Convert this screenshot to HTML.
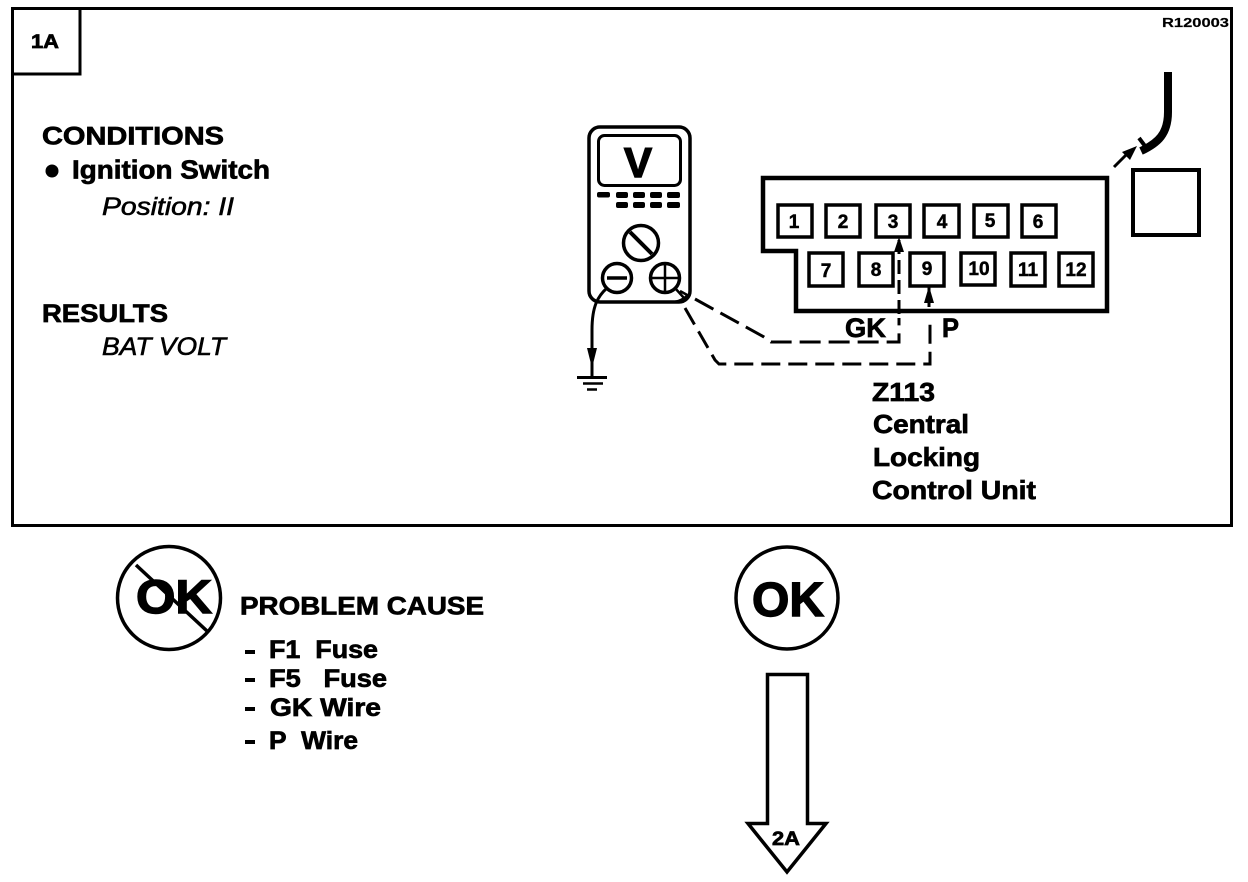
<!DOCTYPE html>
<html lang="en">
<head>
<meta charset="utf-8">
<title>1A</title>
<style>
html,body{margin:0;padding:0;background:#fff;width:1248px;height:882px;overflow:hidden}
svg{display:block}
text{font-family:"Liberation Sans",Arial,sans-serif;font-weight:bold;fill:#000;stroke:#000;stroke-width:.7}
.i{font-style:italic;font-weight:normal;stroke-width:.6}
.n{font-size:19px;text-anchor:middle;stroke-width:.5}
.k{stroke-width:1.4}
.l{fill:none;stroke:#000}
</style>
</head>
<body>
<svg width="1248" height="882" viewBox="0 0 1248 882" xmlns="http://www.w3.org/2000/svg">
<rect width="1248" height="882" fill="#fff"/>

<!-- frame -->
<rect class="l" x="12.5" y="8.5" width="1219" height="517" stroke-width="3"/>
<path class="l" d="M13 74H80V9" stroke-width="3"/>
<text x="31" y="48" font-size="19" textLength="28" lengthAdjust="spacingAndGlyphs">1A</text>
<text x="1162" y="27" font-size="13" textLength="67" lengthAdjust="spacingAndGlyphs" style="stroke-width:.2">R120003</text>

<!-- left text -->
<text x="42" y="144.5" font-size="25" textLength="182" lengthAdjust="spacingAndGlyphs">CONDITIONS</text>
<circle cx="52" cy="171" r="6.5"/>
<text x="72" y="178.5" font-size="26" textLength="198" lengthAdjust="spacingAndGlyphs">Ignition Switch</text>
<text class="i" x="102" y="215" font-size="25" textLength="132" lengthAdjust="spacingAndGlyphs">Position: II</text>
<text x="42" y="322" font-size="25" textLength="126" lengthAdjust="spacingAndGlyphs">RESULTS</text>
<text class="i" x="102" y="355" font-size="25" textLength="124" lengthAdjust="spacingAndGlyphs">BAT VOLT</text>

<!-- meter -->
<rect class="l" x="589" y="127" width="101" height="175" rx="11" stroke-width="3.5"/>
<rect class="l" x="598.5" y="135.5" width="82" height="50" rx="6" stroke-width="3"/>
<text class="k" x="638" y="177" font-size="42" text-anchor="middle">V</text>
<g>
<rect x="597" y="192" width="13" height="5.5" rx="2"/><rect x="616" y="192" width="12" height="6" rx="2"/><rect x="633" y="192" width="12" height="6" rx="2"/><rect x="650" y="192" width="12" height="6" rx="2"/><rect x="667" y="192" width="13" height="6" rx="2"/>
<rect x="616" y="202" width="12" height="6" rx="2"/><rect x="633" y="202" width="12" height="6" rx="2"/><rect x="650" y="202" width="12" height="6" rx="2"/><rect x="667" y="202" width="13" height="6" rx="2"/>
</g>
<circle class="l" cx="641" cy="243" r="17.5" stroke-width="3.5"/>
<path class="l" d="M630 232L652 254" stroke-width="4"/>
<circle class="l" cx="617" cy="278" r="14.5" stroke-width="3.5"/>
<path class="l" d="M607 278H627" stroke-width="3.5"/>
<circle class="l" cx="665" cy="278" r="14.5" stroke-width="3.5"/>
<path class="l" d="M651 278H679M665 264V292" stroke-width="2.5"/>
<path class="l" d="M607 288C598 296 592 306 592 330V376" stroke-width="3"/>
<path d="M587 348H597L592 368Z"/>
<path class="l" d="M577 377.5H607" stroke-width="3"/>
<path class="l" d="M583 383.5H603" stroke-width="2.5"/>
<path class="l" d="M587 389.5H597" stroke-width="2.5"/>
<path class="l" d="M675 288L684 298M680 291L689 296M672 302C678 302 684 299 688 295" stroke-width="2.5"/>

<!-- dashed leads -->
<path class="l" d="M695 299L764 337L771 342H899V318" stroke-width="3" stroke-dasharray="21 8"/>
<path class="l" d="M685 308L715 360L719 364H930V318" stroke-width="3" stroke-dasharray="19 8"/>
<path class="l" d="M899 240V318" stroke-width="3" stroke-dasharray="14 6"/>
<path class="l" d="M929 287V307" stroke-width="3"/>
<path d="M894 252L899 237L904 252Z"/>
<path d="M924 303L929 286L934 303Z"/>

<!-- connector -->
<path class="l" d="M763 178H1107V311H796V251H763Z" stroke-width="4.5"/>
<g class="l" stroke-width="3.5">
<rect x="778" y="205" width="34" height="32"/>
<rect x="826" y="205" width="34" height="32"/>
<rect x="876" y="205" width="34" height="32"/>
<rect x="924" y="205" width="35" height="32"/>
<rect x="974" y="205" width="34" height="32"/>
<rect x="1022" y="205" width="34" height="32"/>
<rect x="809" y="253" width="34" height="33"/>
<rect x="859" y="253" width="34" height="33"/>
<rect x="910" y="253" width="34" height="33"/>
<rect x="961" y="253" width="34" height="32"/>
<rect x="1011" y="253" width="34" height="33"/>
<rect x="1059" y="253" width="34" height="33"/>
</g>
<text class="n" x="794" y="228">1</text>
<text class="n" x="843" y="228">2</text>
<text class="n" x="893" y="228">3</text>
<text class="n" x="942" y="228">4</text>
<text class="n" x="990" y="227">5</text>
<text class="n" x="1038" y="228">6</text>
<text class="n" x="826" y="277">7</text>
<text class="n" x="876" y="276">8</text>
<text class="n" x="927" y="275">9</text>
<text class="n" x="979" y="275">10</text>
<text class="n" x="1028" y="276">11</text>
<text class="n" x="1076" y="276">12</text>
<text x="845" y="337" font-size="27" textLength="41" lengthAdjust="spacingAndGlyphs">GK</text>
<text x="942" y="337" font-size="27" textLength="17" lengthAdjust="spacingAndGlyphs">P</text>

<!-- separate connector side -->
<rect class="l" x="1133" y="170" width="66" height="65" stroke-width="4"/>
<path class="l" d="M1168 72V112C1168 134 1158 143 1141 151" stroke-width="8"/>
<path class="l" d="M1139 138L1148 150" stroke-width="4"/>
<path class="l" d="M1114 167L1128 153" stroke-width="3"/>
<path d="M1137 146L1122 152L1130 160Z"/>

<!-- Z113 -->
<text x="872" y="401" font-size="26" textLength="63" lengthAdjust="spacingAndGlyphs">Z113</text>
<text x="873" y="433" font-size="26" textLength="96" lengthAdjust="spacingAndGlyphs">Central</text>
<text x="873" y="466" font-size="26" textLength="107" lengthAdjust="spacingAndGlyphs">Locking</text>
<text x="872" y="499" font-size="26" textLength="164" lengthAdjust="spacingAndGlyphs">Control Unit</text>

<!-- not OK -->
<circle class="l" cx="169" cy="598" r="51.5" stroke-width="3.5"/>
<path class="l" d="M136 565L207 631" stroke-width="3.5"/>
<text class="k" x="136" y="613" font-size="47" textLength="76" lengthAdjust="spacingAndGlyphs">OK</text>

<text x="240" y="614.5" font-size="25" textLength="244" lengthAdjust="spacingAndGlyphs">PROBLEM CAUSE</text>
<rect x="245" y="650" width="10" height="4"/>
<text x="269" y="658" font-size="25" textLength="109" lengthAdjust="spacingAndGlyphs">F1&#160;&#160;Fuse</text>
<rect x="245" y="678" width="10" height="4"/>
<text x="269" y="687" font-size="25" textLength="118" lengthAdjust="spacingAndGlyphs">F5&#160;&#160;&#160;Fuse</text>
<rect x="245" y="707" width="10" height="4"/>
<text x="270" y="716" font-size="25" textLength="111" lengthAdjust="spacingAndGlyphs">GK Wire</text>
<rect x="245" y="740" width="10" height="4"/>
<text x="269" y="749" font-size="25" textLength="89" lengthAdjust="spacingAndGlyphs">P&#160;&#160;Wire</text>

<!-- OK -->
<circle class="l" cx="787" cy="598" r="51" stroke-width="3.5"/>
<text class="k" x="752" y="616" font-size="48" textLength="72" lengthAdjust="spacingAndGlyphs">OK</text>

<!-- arrow -->
<path class="l" d="M767.5 674.5H807.5V823.5H826L787 872L748 823.5H767.5Z" stroke-width="3.5"/>
<text x="772" y="845" font-size="19" textLength="28" lengthAdjust="spacingAndGlyphs">2A</text>
</svg>
</body>
</html>
